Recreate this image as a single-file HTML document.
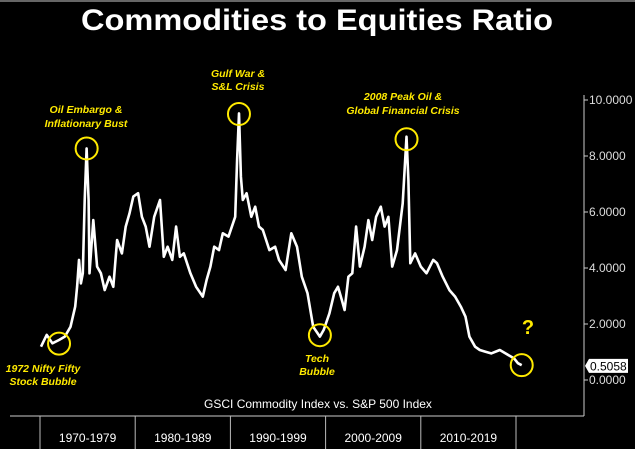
<!DOCTYPE html>
<html><head><meta charset="utf-8"><style>
html,body{margin:0;padding:0;background:#000;}
svg{display:block;}
text{font-family:"Liberation Sans",sans-serif;}
</style></head><body>
<svg id="chart" width="635" height="449" viewBox="0 0 635 449">
<rect width="635" height="449" fill="#000"/>
<rect width="635" height="2" fill="#666"/>
<text x="317" y="30" text-anchor="middle" fill="#fff" font-size="30" font-weight="bold" textLength="472" lengthAdjust="spacingAndGlyphs">Commodities to Equities Ratio</text>
<g id="axes"></g>
<path id="series" fill="none" stroke="#fff" stroke-width="2.6" stroke-linejoin="round"/>
<g id="annot" fill="#ffea00" font-size="10.5" font-style="italic" font-weight="bold" text-anchor="middle"></g>
<text x="318" y="408" text-anchor="middle" fill="#fff" font-size="12">GSCI Commodity Index vs. S&amp;P 500 Index</text>
</svg>
<script>
const years=[1970.1,1970.7,1971.3,1972.0,1972.6,1973.2,1973.7,1973.9,1974.1,1974.3,1974.5,1974.7,1974.9,1975.1,1975.2,1975.6,1976.0,1976.4,1976.8,1977.3,1977.7,1978.1,1978.6,1979.0,1979.4,1979.8,1980.3,1980.7,1981.1,1981.5,1982.0,1982.6,1983.0,1983.4,1983.9,1984.3,1984.7,1985.1,1985.8,1986.4,1987.1,1987.5,1987.9,1988.3,1988.8,1989.2,1989.8,1990.5,1990.7,1990.9,1991.1,1991.3,1991.7,1992.2,1992.6,1993.0,1993.4,1994.1,1994.7,1995.1,1995.8,1996.4,1997.0,1997.5,1998.1,1998.7,1999.4,1999.8,2000.4,2000.9,2001.3,2001.7,2002.0,2002.4,2002.8,2003.2,2003.6,2004.1,2004.5,2004.9,2005.3,2005.8,2006.2,2006.6,2007.0,2007.5,2008.1,2008.3,2008.5,2008.7,2008.9,2009.4,2010.0,2010.6,2011.3,2011.7,2012.3,2013.0,2013.6,2014.2,2014.7,2015.1,2015.7,2016.2,2016.8,2017.4,2018.3,2018.9,2019.8,2020.2,2020.6];
const ratio=[1.19,1.61,1.31,1.43,1.55,1.90,2.62,3.33,4.29,3.45,3.81,6.43,8.27,6.43,3.81,5.71,4.05,3.81,3.21,3.69,3.33,5.0,4.52,5.48,5.95,6.55,6.67,5.83,5.48,4.76,5.83,6.43,4.40,4.76,4.29,5.48,4.40,4.52,3.81,3.33,2.98,3.57,4.05,4.76,4.64,5.24,5.12,5.83,7.86,9.52,7.26,6.43,6.67,5.83,6.19,5.48,5.36,4.64,4.76,4.29,3.93,5.24,4.76,3.69,3.10,1.90,1.55,1.79,2.38,3.10,3.33,2.86,2.50,3.69,3.81,5.48,4.05,4.76,5.71,5.0,5.83,6.19,5.48,5.83,4.05,4.64,6.31,7.5,8.69,7.14,4.17,4.52,4.05,3.81,4.29,4.17,3.69,3.21,2.98,2.62,2.26,1.55,1.19,1.07,1.01,0.95,1.07,0.95,0.77,0.60,0.53];
const yTicks=[0,2,4,6,8,10];
const yTickLabels=["0.0000","2.0000","4.0000","6.0000","8.0000","10.0000"];
const decades=[1970,1980,1990,2000,2010];
const decadeLabels=["1970-1979","1980-1989","1990-1999","2000-2009","2010-2019"];
const lastValue=0.5058;
const NS="http://www.w3.org/2000/svg";
function xs(y){return 40+(y-1970)*9.52;}
function ys(v){return 380-v*28;}
function mk(tag,attrs,parent,txt){const e=document.createElementNS(NS,tag);for(const k in attrs)e.setAttribute(k,attrs[k]);if(txt!==undefined)e.textContent=txt;parent.appendChild(e);return e;}
const axes=document.getElementById('axes');
let l=mk('line',{x1:584,y1:95,x2:584,y2:416,stroke:'#ccc','stroke-width':1},axes);


l=mk('line',{x1:10,y1:416,x2:584,y2:416,stroke:'#ccc','stroke-width':1},axes);


yTicks.forEach((t,i)=>{
  const tk=mk('line',{x1:584,y1:ys(t),x2:588,y2:ys(t),stroke:'#ccc'},axes);
  
  
  const tx=mk('text',{x:589,y:ys(t)+4,fill:'#ddd','font-size':'12'},axes,yTickLabels[i]);
  
  
});
decades.concat([2020]).forEach(d=>{
  const dl=mk('line',{x1:xs(d),y1:416,x2:xs(d),y2:449,stroke:'#bbb'},axes);
  
  
});
decades.forEach((d,i)=>{
  const t=mk('text',{x:xs(d+5),y:442,fill:'#fff','font-size':'12','text-anchor':'middle'},axes,decadeLabels[i]);
  
  
});
let d='';
years.forEach((y,i)=>{d+=(i?'L':'M')+xs(y).toFixed(1)+','+ys(ratio[i]).toFixed(1);});
document.getElementById('series').setAttribute('d',d);
const lv=ys(lastValue);
const box=mk('path',{d:`M585,${lv} L589,${lv-7} L628,${lv-7} L628,${lv+7} L589,${lv+7} Z`,fill:'#fff'},axes);


const bt=mk('text',{x:590,y:lv+4.5,fill:'#000','font-size':'12'},axes,lastValue.toFixed(4));


const an=document.getElementById('annot');
const circles=[[1972.0,1.3],[1974.9,8.27],[1990.9,9.5],[2008.5,8.6],[1999.4,1.6],[2020.6,0.53]];
circles.forEach(c=>{
  const e=mk('circle',{cx:xs(c[0]),cy:ys(c[1]),r:11,fill:'none',stroke:'#ffea00','stroke-width':2},an);
  
  
});
const labels=[[86,113,'Oil Embargo &'],[86,127,'Inflationary Bust'],[238,77,'Gulf War &'],[238,90,'S&L Crisis'],[403,100,'2008 Peak Oil &'],[403,114,'Global Financial Crisis'],[43,372,'1972 Nifty Fifty'],[43,385,'Stock Bubble'],[317,362,'Tech'],[317,375,'Bubble']];
labels.forEach(a=>{
  const t=mk('text',{x:a[0],y:a[1]},an,a[2]);
  
  
});
const q=mk('text',{x:528,y:334,'font-size':'20','font-style':'normal'},an,'?');


</script>
</body></html>
